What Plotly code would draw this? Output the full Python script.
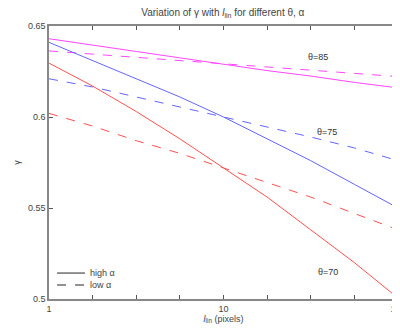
import plotly.graph_objects as go

# x sample positions (pixels, log scale), 10^(k/4)
x_vals = [1.0, 1.778, 3.162, 5.623, 10.0, 17.78, 31.62, 56.23, 100.0]

th85_high = [0.643, 0.6397, 0.636, 0.6325, 0.629, 0.6255, 0.6225, 0.619, 0.616]
th85_low = [0.6363, 0.6345, 0.6327, 0.631, 0.629, 0.6272, 0.6255, 0.6238, 0.6222]
th75_high = [0.641, 0.631, 0.621, 0.611, 0.600, 0.588, 0.576, 0.563, 0.550]
th75_low = [0.621, 0.6165, 0.611, 0.6055, 0.600, 0.5945, 0.589, 0.583, 0.576]
th70_high = [0.6296, 0.617, 0.603, 0.588, 0.572, 0.556, 0.538, 0.520, 0.5005]
th70_low = [0.602, 0.595, 0.587, 0.580, 0.572, 0.564, 0.556, 0.547, 0.538]

x_tickvals = [1.0, 1.778, 3.162, 5.623, 10.0, 17.78, 31.62, 56.23, 100.0]
x_ticktext = ["1", " ", " ", " ", "10", " ", " ", " ", "100"]
y_tickvals = [0.5, 0.55, 0.6, 0.65]
legend_labels = ["high α", "low α"]

MAG = "rgb(255,70,255)"
BLU = "rgb(100,100,255)"
RED = "rgb(255,80,80)"

fig = go.Figure()
series = [
    (th85_high, MAG, "solid"), (th85_low, MAG, "dash"),
    (th75_high, BLU, "solid"), (th75_low, BLU, "dash"),
    (th70_high, RED, "solid"), (th70_low, RED, "dash"),
]
for ys, c, d in series:
    fig.add_trace(go.Scatter(x=x_vals, y=ys, mode="lines",
                             line=dict(color=c, width=1, dash=d),
                             showlegend=False, hoverinfo="skip"))

labels = [("θ=85", 1.54, 0.633), ("θ=75", 1.593, 0.592), ("θ=70", 1.60, 0.515)]
for t, lx, ly in labels:
    fig.add_annotation(x=lx, y=ly, xref="x", yref="y", text=t, showarrow=False,
                       font=dict(size=9, color="#333"))

# legend drawn in the lower-left corner
for lbl, ly, dash in [(legend_labels[0], 0.095, "solid"), (legend_labels[1], 0.051, "dash")]:
    fig.add_shape(type="line", xref="paper", yref="paper", x0=0.023, x1=0.103,
                  y0=ly, y1=ly, line=dict(color="rgb(110,110,110)", width=1.5, dash=dash))
    fig.add_annotation(xref="paper", yref="paper", x=0.112, y=ly, text=lbl,
                       xanchor="left", yanchor="middle", showarrow=False,
                       font=dict(size=9, color="#444"))

axis_common = dict(showgrid=False, zeroline=False, showline=True, linecolor="#888",
                   linewidth=1.5, mirror="ticks", ticks="inside", ticklen=4,
                   tickcolor="#555", tickfont=dict(size=9, color="#444"),
                   automargin=False)

# the page body has an 8px margin, so the figure is sized to fit the window
fig.update_layout(
    width=392, height=325,
    margin=dict(l=41, r=2, t=18, b=34, autoexpand=False),
    paper_bgcolor="white", plot_bgcolor="white",
    font=dict(family="Liberation Sans, Arial, sans-serif", size=9, color="#444"),
    title=dict(text="Variation of γ with <i>l</i><sub>lin</sub> for different θ, α",
               x=0.548, xanchor="center", y=0.996, yanchor="top",
               font=dict(size=10, color="#444"), automargin=False),
    xaxis=dict(type="log", range=[0, 2], tickvals=x_tickvals, ticktext=x_ticktext,
               ticklabeloverflow="allow",
               title=dict(text="<i>l</i><sub>lin</sub> (pixels)", standoff=0,
                          font=dict(size=9)), **axis_common),
    yaxis=dict(range=[0.5, 0.65], tickvals=y_tickvals,
               ticktext=["0.5", "0.55", "0.6", "0.65"],
               title=dict(text="γ", standoff=6, font=dict(size=9)), **axis_common),
    showlegend=False,
)

fig.write_html("out.html")
